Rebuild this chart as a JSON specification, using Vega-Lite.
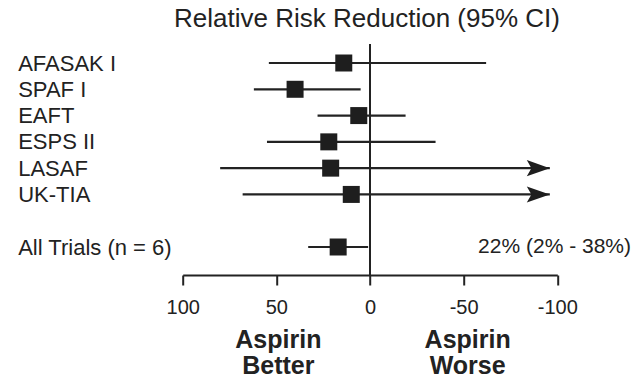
{
  "$schema": "https://vega.github.io/schema/vega-lite/v6.json",
  "autosize": "none",
  "width": 374.6,
  "height": 231,
  "padding": {"left": 182.7, "top": 44, "right": 77.7, "bottom": 106},
  "background": "white",
  "config": {
    "view": {"stroke": null},
    "font": "Liberation Sans",
    "axis": {"grid": false}
  },
  "title": {
    "text": "Relative Risk Reduction (95% CI)",
    "fontSize": 26,
    "fontWeight": "normal",
    "color": "#222",
    "anchor": "middle",
    "baseline": "alphabetic",
    "offset": -10,
    "dx": -3
  },
  "data": {
    "values": [
      {"trial": "AFASAK I", "rrr": 14, "low": 54, "high": -62, "arrow": false},
      {"trial": "SPAF I", "rrr": 40, "low": 62, "high": 5, "arrow": false},
      {"trial": "EAFT", "rrr": 6, "low": 28, "high": -19, "arrow": false},
      {"trial": "ESPS II", "rrr": 22, "low": 55, "high": -35, "arrow": false},
      {"trial": "LASAF", "rrr": 21, "low": 80, "high": -96, "arrow": true},
      {"trial": "UK-TIA", "rrr": 10, "low": 68, "high": -96, "arrow": true},
      {"trial": "All Trials (n = 6)", "rrr": 17, "low": 33, "high": 1, "arrow": false, "summary": "22% (2% - 38%)"}
    ]
  },
  "encoding": {
    "y": {
      "field": "trial",
      "type": "nominal",
      "scale": {
        "type": "point",
        "domain": ["AFASAK I", "SPAF I", "EAFT", "ESPS II", "LASAF", "UK-TIA", " ", "All Trials (n = 6)"],
        "range": [19, 203],
        "padding": 0
      },
      "axis": {
        "title": null,
        "domain": false,
        "ticks": false,
        "tickSize": 0,
        "labelAlign": "left",
        "labelPadding": 165,
        "labelFontSize": 22,
        "labelColor": "#222",
        "labelBaseline": "middle"
      }
    }
  },
  "layer": [
    {
      "mark": {"type": "rule", "strokeWidth": 2.2, "color": "#222"},
      "encoding": {
        "x": {
          "field": "low",
          "type": "quantitative",
          "scale": {"domain": [-100, 100], "reverse": true, "nice": false, "zero": false},
          "axis": {
            "title": null,
            "values": [100, 50, 0, -50, -100],
            "labelExpr": "toString(datum.value)",
            "labelFontSize": 20,
            "labelColor": "#222",
            "labelPadding": 12,
            "tickSize": 10,
            "tickWidth": 2,
            "tickColor": "#222",
            "domainColor": "#222",
            "domainWidth": 2,
            "labelFlush": false,
            "labelOverlap": false
          }
        },
        "x2": {"field": "high"}
      }
    },
    {
      "mark": {"type": "rule", "strokeWidth": 2, "color": "#222"},
      "encoding": {"x": {"datum": 0, "type": "quantitative"}, "y": null}
    },
    {
      "mark": {"type": "point", "shape": "square", "filled": true, "size": 289, "color": "#1e1e1e", "opacity": 1},
      "encoding": {"x": {"field": "rrr", "type": "quantitative"}}
    },
    {
      "transform": [{"filter": "datum.arrow"}],
      "mark": {"type": "point", "shape": "M0,0 L-2,-0.7 L-1.6,0 L-2,0.7 Z", "filled": true, "size": 529, "color": "#1e1e1e", "opacity": 1},
      "encoding": {"x": {"field": "high", "type": "quantitative"}}
    },
    {
      "transform": [{"filter": "datum.summary"}],
      "mark": {"type": "text", "align": "right", "baseline": "middle", "fontSize": 21, "color": "#222", "dx": 73.7},
      "encoding": {"x": {"datum": -100, "type": "quantitative"}, "text": {"field": "summary"}}
    },
    {
      "transform": [{"filter": "datum.summary"}],
      "mark": {"type": "text", "align": "center", "baseline": "top", "fontSize": 25, "fontWeight": "bold", "lineHeight": 26, "color": "#222", "dy": 81, "dx": 2, "lineBreak": "\n"},
      "encoding": {"x": {"datum": 50, "type": "quantitative"}, "text": {"value": "Aspirin\nBetter"}}
    },
    {
      "transform": [{"filter": "datum.summary"}],
      "mark": {"type": "text", "align": "center", "baseline": "top", "fontSize": 25, "fontWeight": "bold", "lineHeight": 26, "color": "#222", "dy": 81, "dx": 4, "lineBreak": "\n"},
      "encoding": {"x": {"datum": -50, "type": "quantitative"}, "text": {"value": "Aspirin\nWorse"}}
    }
  ]
}
